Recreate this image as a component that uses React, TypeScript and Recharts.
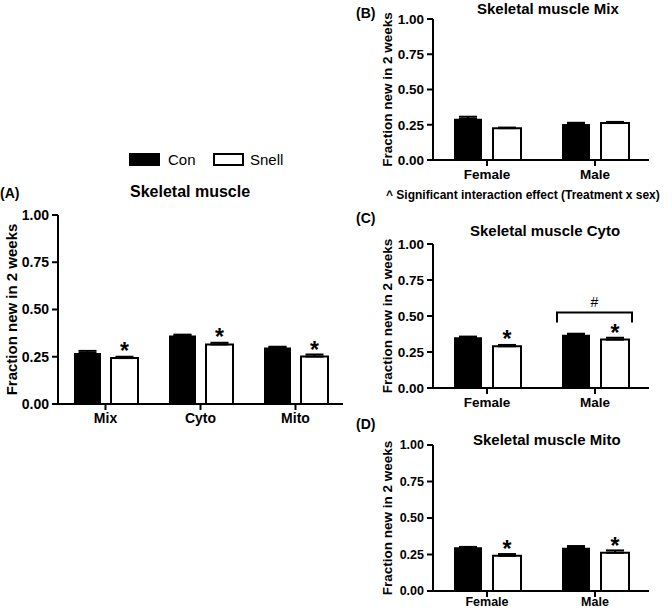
import { BarChart, Bar, XAxis, YAxis, ErrorBar, LabelList } from "recharts";

const FONT = '"Liberation Sans", Arial, Helvetica, sans-serif';

// (A) pooled skeletal muscle fractions
const fractions = ["Mix", "Cyto", "Mito"];
const conAll = [0.27, 0.362, 0.299];
const conAllErr = [0.011, 0.005, 0.004];
const snellAll = [0.243, 0.315, 0.251];
const snellAllErr = [0.007, 0.009, 0.011];
const snellAllSig = ["*", "*", "*"];

const sexes = ["Female", "Male"];

// (B) Mix
const conMix = [0.293, 0.255];
const conMixErr = [0.014, 0.009];
const snellMix = [0.226, 0.262];
const snellMixErr = [0.004, 0.008];
const snellMixSig = ["", ""];

// (C) Cyto
const conCyto = [0.352, 0.369];
const conCytoErr = [0.005, 0.008];
const snellCyto = [0.29, 0.336];
const snellCytoErr = [0.009, 0.013];
const snellCytoSig = ["*", "*"];
const cytoBracket = [null, 0.525]; // "#" sex effect over Male

// (D) Mito
const conMito = [0.299, 0.296];
const conMitoErr = [0.003, 0.012];
const snellMito = [0.241, 0.262];
const snellMitoErr = [0.012, 0.016];
const snellMitoSig = ["*", "*"];

const yTicks = [0, 0.25, 0.5, 0.75, 1];
const yLabel = "Fraction new in 2 weeks";

type Row = {
  name: string;
  con: number;
  conErr: number[];
  snell: number;
  snellErr: number[];
  sig: string;
  bracket: number | null;
};

function buildRows(
  cats: string[],
  con: number[],
  conErr: number[],
  snell: number[],
  snellErr: number[],
  sig: string[],
  bracket?: (number | null)[]
): Row[] {
  return cats.map((c, i) => ({
    name: c,
    con: con[i],
    conErr: [0, conErr[i]],
    snell: snell[i],
    snellErr: [0, snellErr[i]],
    sig: sig[i],
    bracket: bracket ? bracket[i] : null,
  }));
}

const rowsA = buildRows(fractions, conAll, conAllErr, snellAll, snellAllErr, snellAllSig);
const rowsB = buildRows(sexes, conMix, conMixErr, snellMix, snellMixErr, snellMixSig);
const rowsC = buildRows(sexes, conCyto, conCytoErr, snellCyto, snellCytoErr, snellCytoSig, cytoBracket);
const rowsD = buildRows(sexes, conMito, conMitoErr, snellMito, snellMitoErr, snellMitoSig);

const StarLabel = (props: any) => {
  const vb = props.viewBox ?? props;
  if (!props.value) return null;
  return (
    <text
      x={vb.x + vb.width / 2}
      y={vb.y + 1}
      textAnchor="middle"
      fontSize={23}
      fontWeight="bold"
      fontFamily={FONT}
      fill="#000"
    >
      {props.value}
    </text>
  );
};

function makeBracket(rows: Row[], barGap: number) {
  return (props: any) => {
    const { index, value } = props;
    if (value == null || index == null) return null;
    const vb = props.viewBox ?? props;
    const perUnit = vb.height / rows[index].snell;
    const base = vb.y + vb.height;
    const top = base - value * perUnit;
    const foot = base - (value - 0.07) * perUnit;
    const left = vb.x - barGap - vb.width - 5;
    const right = vb.x + vb.width + 3;
    return (
      <g>
        <path
          d={`M${left},${foot}V${top}H${right}V${foot}`}
          fill="none"
          stroke="#000"
          strokeWidth={2}
        />
        <text
          x={(left + right) / 2}
          y={top - 5}
          textAnchor="middle"
          fontSize={14}
          fontFamily={FONT}
          fill="#000"
        >
          #
        </text>
      </g>
    );
  };
}

type PanelProps = {
  rows: Row[];
  left: number;
  top: number;
  width: number;
  height: number;
  marginTop: number;
  marginRight: number;
  yAxisWidth: number;
  xAxisHeight: number;
  xTickMargin: number;
  barSize: number;
  barGap: number;
  tickSize: number;
  labelSize: number;
  labelDx: number;
};

function Panel(p: PanelProps) {
  const tick = { fill: "#000", fontSize: p.tickSize, fontWeight: "bold", fontFamily: FONT };
  const line = { stroke: "#000", strokeWidth: 2 };
  return (
    <div style={{ position: "absolute", left: p.left, top: p.top }}>
      <BarChart
        width={p.width}
        height={p.height}
        data={p.rows}
        margin={{ top: p.marginTop, right: p.marginRight, left: 0, bottom: 0 }}
        barSize={p.barSize}
        barGap={p.barGap}
      >
        <XAxis
          dataKey="name"
          height={p.xAxisHeight}
          axisLine={line}
          tickLine={line}
          tickSize={6}
          tickMargin={p.xTickMargin}
          tick={tick}
          interval={0}
        />
        <YAxis
          width={p.yAxisWidth}
          domain={[0, 1]}
          ticks={yTicks}
          interval={0}
          axisLine={line}
          tickLine={line}
          tickSize={6}
          tickMargin={3}
          tick={tick}
          tickFormatter={(v: number) => v.toFixed(2)}
          label={{
            value: yLabel,
            angle: -90,
            position: "center",
            dx: p.labelDx,
            fontSize: p.labelSize,
            fontWeight: "bold",
            fontFamily: FONT,
            fill: "#000",
          }}
        />
        <Bar dataKey="con" fill="#000" isAnimationActive={false}>
          <ErrorBar dataKey="conErr" width={9} stroke="#000" strokeWidth={2} direction="y" isAnimationActive={false} />
        </Bar>
        <Bar dataKey="snell" fill="#fff" stroke="#000" strokeWidth={2} isAnimationActive={false}>
          <ErrorBar dataKey="snellErr" width={9} stroke="#000" strokeWidth={2} direction="y" isAnimationActive={false} />
          <LabelList dataKey="sig" content={StarLabel} />
          <LabelList dataKey="bracket" content={makeBracket(p.rows, p.barGap)} />
        </Bar>
      </BarChart>
    </div>
  );
}

const textStyle = (left: number, top: number, size: number, bold = true): React.CSSProperties => ({
  position: "absolute",
  left,
  top,
  fontSize: size,
  lineHeight: 1,
  fontWeight: bold ? "bold" : "normal",
  fontFamily: FONT,
  color: "#000",
  whiteSpace: "nowrap",
});

export default function App() {
  return (
    <div
      style={{
        position: "absolute",
        left: 0,
        top: 0,
        width: 672,
        height: 611,
        background: "#fff",
        overflow: "hidden",
        fontFamily: FONT,
      }}
    >
      {/* legend */}
      <div style={{ position: "absolute", left: 129, top: 153, width: 31, height: 13, background: "#000" }} />
      <div style={textStyle(168, 152, 15, false)}>Con</div>
      <div
        style={{
          position: "absolute",
          left: 213,
          top: 153,
          width: 27,
          height: 9,
          border: "2px solid #000",
          background: "#fff",
        }}
      />
      <div style={textStyle(250, 152, 15, false)}>Snell</div>

      {/* panel A */}
      <div style={textStyle(0, 186, 14)}>(A)</div>
      <div style={textStyle(130, 184, 16)}>Skeletal muscle</div>
      <Panel
        rows={rowsA}
        left={0}
        top={180}
        width={350}
        height={250}
        marginTop={35}
        marginRight={7}
        yAxisWidth={58}
        xAxisHeight={26}
        xTickMargin={3}
        barSize={27}
        barGap={10}
        tickSize={14}
        labelSize={15}
        labelDx={-17}
      />

      {/* panel B */}
      <div style={textStyle(356, 6, 14)}>(B)</div>
      <div style={textStyle(477, 1, 15)}>Skeletal muscle Mix</div>
      <Panel
        rows={rowsB}
        left={360}
        top={0}
        width={295}
        height={185}
        marginTop={19}
        marginRight={6}
        yAxisWidth={73}
        xAxisHeight={25}
        xTickMargin={3}
        barSize={28}
        barGap={11}
        tickSize={13.5}
        labelSize={13.5}
        labelDx={-9.5}
      />
      <div style={textStyle(386, 189, 12)}>^ Significant interaction effect (Treatment x sex)</div>

      {/* panel C */}
      <div style={textStyle(356, 211, 14)}>(C)</div>
      <div style={textStyle(470, 223, 15)}>Skeletal muscle Cyto</div>
      <Panel
        rows={rowsC}
        left={360}
        top={225}
        width={295}
        height={188}
        marginTop={19}
        marginRight={6}
        yAxisWidth={73}
        xAxisHeight={25}
        xTickMargin={3}
        barSize={28}
        barGap={11}
        tickSize={13.5}
        labelSize={13.5}
        labelDx={-9.5}
      />

      {/* panel D */}
      <div style={textStyle(356, 417, 14)}>(D)</div>
      <div style={textStyle(473, 432, 15)}>Skeletal muscle Mito</div>
      <Panel
        rows={rowsD}
        left={360}
        top={426}
        width={295}
        height={185}
        marginTop={19}
        marginRight={6}
        yAxisWidth={73}
        xAxisHeight={20}
        xTickMargin={0}
        barSize={28}
        barGap={11}
        tickSize={12.5}
        labelSize={13.5}
        labelDx={-9.5}
      />
    </div>
  );
}
